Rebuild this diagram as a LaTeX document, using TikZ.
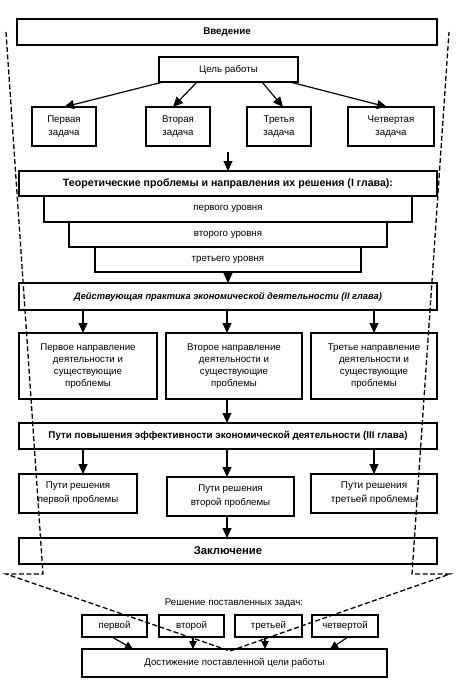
\documentclass[tikz,border=0pt]{standalone}
\usepackage{fontspec}
\setmainfont{Liberation Sans}
\usetikzlibrary{arrows.meta,calc}
\tikzset{
  box/.style={draw, line width=1.2pt, inner sep=0pt, outer sep=0pt, align=center, font=\fontsize{9.7}{12}\selectfont},
  hbox/.style={box, font=\fontsize{10.4}{12}\selectfont\bfseries},
  arr/.style={line width=1.2pt, -{Triangle[length=10pt,width=9pt]}},
  sarr/.style={line width=1.2pt, -{Triangle[length=8pt,width=7.5pt]}},
  funnel/.style={line width=1.3pt, dash pattern=on 5pt off 2.5pt},
}
\begin{document}
\begin{tikzpicture}[x=1pt,y=-1pt]
\useasboundingbox (0,0) rectangle (457,686);
% boxes
\node[hbox, minimum width=420pt, minimum height=26pt, font=\fontsize{9.8}{12}\selectfont\bfseries] (intro) at (227,32) {Введение};
\node[box, minimum width=139pt, minimum height=25pt] (goal) at (228.5,69.5) {Цель работы};
\node[box, minimum width=64pt, minimum height=39pt, font=\fontsize{9.7}{13}\selectfont] (t1) at (64,126.5) {Первая\\задача};
\node[box, minimum width=64pt, minimum height=39pt, font=\fontsize{9.7}{13}\selectfont] (t2) at (178,126.5) {Вторая\\задача};
\node[box, minimum width=64pt, minimum height=39pt, font=\fontsize{9.7}{13}\selectfont] (t3) at (279,126.5) {Третья\\задача};
\node[box, minimum width=86pt, minimum height=39pt, font=\fontsize{9.7}{13}\selectfont] (t4) at (391,126.5) {Четвертая\\задача};
\coordinate (a0) at (228,152);
\node[hbox, minimum width=418pt, minimum height=25pt, font=\fontsize{10.6}{12}\selectfont\bfseries] (theory) at (228,183.5) {Теоретические проблемы и направления их решения (I глава):};
\node[box, minimum width=368pt, minimum height=26pt] (lvl1) at (228,209) {первого уровня};
\node[box, minimum width=318pt, minimum height=25pt] (lvl2) at (228,234.5) {второго уровня};
\node[box, minimum width=266pt, minimum height=25pt] (lvl3) at (228,259.5) {третьего уровня};
\node[hbox, minimum width=418pt, minimum height=27pt, font=\fontsize{9.3}{12}\selectfont\bfseries\itshape] (practice) at (228,296.5) {Действующая практика экономической деятельности (II глава)};
\node[box, minimum width=138pt, minimum height=66pt] (d1) at (88,366) {Первое направление\\деятельности и\\существующие\\проблемы};
\node[box, minimum width=136pt, minimum height=66pt] (d2) at (234,366) {Второе направление\\деятельности и\\существующие\\проблемы};
\node[box, minimum width=126pt, minimum height=66pt] (d3) at (374,366) {Третье направление\\деятельности и\\существующие\\проблемы};
\node[hbox, minimum width=418pt, minimum height=26pt, font=\fontsize{9.8}{12}\selectfont\bfseries] (ways) at (228,436) {Пути повышения эффективности экономической деятельности (III глава)};
\node[box, minimum width=118pt, minimum height=39pt, font=\fontsize{9.7}{14}\selectfont] (w1) at (78,493.5) {Пути решения\\первой проблемы};
\node[box, minimum width=127pt, minimum height=39pt, font=\fontsize{9.7}{14}\selectfont] (w2) at (230.5,496.5) {Пути решения\\второй проблемы};
\node[box, minimum width=126pt, minimum height=39pt, font=\fontsize{10}{14}\selectfont] (w3) at (374,493.5) {Пути решения\\третьей проблемы};
\node[hbox, minimum width=418pt, minimum height=26pt, font=\fontsize{11.3}{13}\selectfont\bfseries] (concl) at (228,551) {Заключение};
\node[font=\fontsize{9.7}{12}\selectfont, inner sep=0pt] (lab) at (234,603) {Решение поставленных задач:};
\node[box, minimum width=65pt, minimum height=22pt] (s1) at (114.5,626) {первой};
\node[box, minimum width=65pt, minimum height=22pt] (s2) at (191.5,626) {второй};
\node[box, minimum width=67pt, minimum height=22pt] (s3) at (268.5,626) {третьей};
\node[box, minimum width=66pt, minimum height=22pt] (s4) at (345,626) {четвертой};
\node[box, minimum width=305pt, minimum height=28pt] (res) at (234.5,663) {Достижение поставленной цели работы};
% arrows top
\draw[arr] ([xshift=-65.5pt]goal.south) -- (t1.north);
\draw[arr] ([xshift=-31.5pt]goal.south) -- ([xshift=-5pt]t2.north);
\draw[arr] ([xshift=33.5pt]goal.south) -- ([xshift=4pt]t3.north);
\draw[arr] ([xshift=61.5pt]goal.south) -- ([xshift=-4pt]t4.north);
\draw[arr] (a0) -- (theory.north);
\draw[arr] (lvl3.south) -- (practice.north);
\draw[arr] ([xshift=-145pt]practice.south) -- ([xshift=-5pt]d1.north);
\draw[arr] ([xshift=-1pt]practice.south) -- ([xshift=-7pt]d2.north);
\draw[arr] ([xshift=146pt]practice.south) -- (d3.north);
\draw[arr] ([xshift=-7pt]d2.south) -- ([xshift=-1pt]ways.north);
\draw[arr] ([xshift=-145pt]ways.south) -- ([xshift=5pt]w1.north);
\draw[arr] ([xshift=-1pt]ways.south) -- ([xshift=-3.5pt]w2.north);
\draw[arr] ([xshift=146pt]ways.south) -- (w3.north);
\draw[arr] ([xshift=-3.5pt]w2.south) -- ([xshift=-1pt]concl.north);
% bottom arrows
\draw[sarr] ([xshift=-2.5pt]s1.south) -- ([xshift=-101.5pt]res.north);
\draw[sarr] ([xshift=1.5pt]s2.south) -- ([xshift=-41.5pt]res.north);
\draw[sarr] ([xshift=-3.5pt]s3.south) -- ([xshift=30.5pt]res.north);
\draw[sarr] ([xshift=3pt]s4.south) -- ([xshift=95.5pt]res.north);
% funnel
\coordinate (lt) at (6,32);
\coordinate (lb) at (43,574);
\coordinate (lo) at (6,574);
\coordinate (rt) at (449,32);
\coordinate (rb) at (412,574);
\coordinate (ro) at (450,574);
\coordinate (tip) at (230,651);
\draw[funnel] (lt) -- (lb) -- (lo) -- (tip) -- (ro) -- (rb) -- (rt);
\end{tikzpicture}
\end{document}
